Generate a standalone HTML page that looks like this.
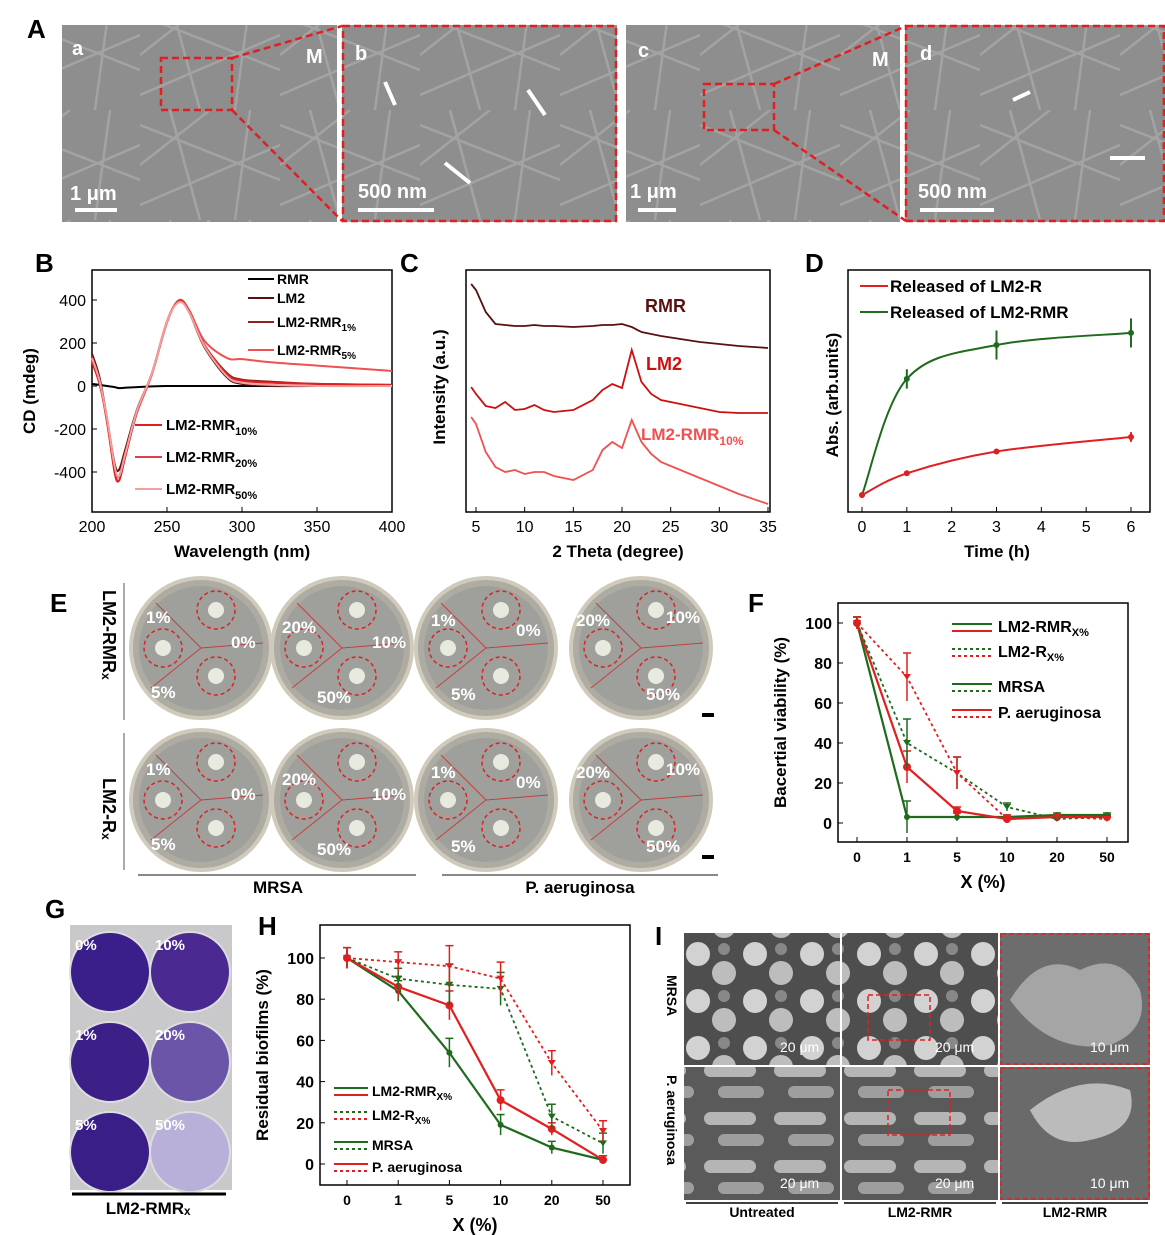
<!DOCTYPE html>
<html><head><meta charset="utf-8"><style>
body{margin:0;background:#fff;}
svg{display:block;font-family:"Liberation Sans",Arial,sans-serif;}
</style></head><body>
<svg id="fig" width="1165" height="1235" viewBox="0 0 1165 1235" xmlns="http://www.w3.org/2000/svg">
<defs>
<pattern id="sem" width="140" height="110" patternUnits="userSpaceOnUse">
<rect width="140" height="110" fill="#8e8e8e"/>
<path d="M0 15 L140 70 M30 0 L60 110 M0 95 L140 35 M110 0 L95 110 M0 55 L70 0" stroke="#a3a3a3" stroke-width="2.5" fill="none"/>
</pattern>
<pattern id="bact" width="57" height="47" patternUnits="userSpaceOnUse">
<rect width="57" height="47" fill="#4e4e4e"/>
<circle cx="14" cy="14" r="12" fill="#d2d2d2"/><circle cx="40" cy="33" r="12" fill="#bdbdbd"/><circle cx="40" cy="9" r="6" fill="#888"/>
</pattern>
<pattern id="rod" width="70" height="48" patternUnits="userSpaceOnUse">
<rect width="70" height="48" fill="#5a5a5a"/>
<rect x="4" y="8" width="52" height="13" rx="6.5" fill="#b5b5b5"/><rect x="18" y="30" width="46" height="12" rx="6" fill="#9e9e9e"/>
</pattern>
</defs>
<g>
<text x="27" y="38" font-size="26" font-weight="bold">A</text>
<rect x="62" y="25" width="275" height="197" fill="url(#sem)"/>
<rect x="342" y="25" width="275" height="197" fill="url(#sem)"/>
<rect x="626" y="25" width="274" height="197" fill="url(#sem)"/>
<rect x="905" y="25" width="260" height="197" fill="url(#sem)"/>
<g stroke="#e02020" stroke-width="2.5" stroke-dasharray="7,4" fill="none">
<rect x="161" y="58" width="71" height="52"/><rect x="343" y="26" width="273" height="195"/>
<rect x="704" y="84" width="70" height="46"/><rect x="906" y="26" width="258" height="195"/>
<path d="M232 58 L342 26 M232 110 L342 221 M774 84 L906 26 M774 130 L906 221"/>
</g>
<g fill="#fff" font-weight="bold" font-size="20">
<text x="72" y="55">a</text><text x="306" y="63">M</text><text x="355" y="60">b</text>
<text x="638" y="57">c</text><text x="872" y="66">M</text><text x="920" y="60">d</text>
<text x="70" y="200">1 μm</text><text x="358" y="198">500 nm</text><text x="630" y="198">1 μm</text><text x="918" y="198">500 nm</text>
</g>
<g stroke="#fff" stroke-width="4"><path d="M75 210h42M358 210h76M638 210h38M920 210h74"/>
<path d="M395 105 L385 82 M545 115 L528 90 M470 183 L445 163 M1030 92 L1013 100 M1145 158 L1110 158"/></g>
</g>

<g id="pB"></g>
<g id="pC"></g>
<g id="pD"></g>

<g>
<text x="50" y="612" font-size="26" font-weight="bold">E</text>
<line x1="124" y1="583" x2="124" y2="720" stroke="#555"/><line x1="124" y1="733" x2="124" y2="870" stroke="#555"/>
<text transform="translate(103,590) rotate(90)" font-size="18" font-weight="bold">LM2-RMRₓ</text>
<text transform="translate(103,778) rotate(90)" font-size="18" font-weight="bold">LM2-Rₓ</text>
<g id="plates"></g>
<line x1="138" y1="875" x2="416" y2="875" stroke="#888" stroke-width="2"/><line x1="442" y1="875" x2="718" y2="875" stroke="#888" stroke-width="2"/>
<text x="278" y="893" font-size="17" font-weight="bold" text-anchor="middle">MRSA</text>
<text x="580" y="893" font-size="17" font-weight="bold" text-anchor="middle">P. aeruginosa</text>
<rect x="702" y="713" width="12" height="4" fill="#000"/><rect x="702" y="855" width="12" height="4" fill="#000"/>
</g>

<g id="pF"></g>

<g>
<text x="45" y="918" font-size="26" font-weight="bold">G</text>
<rect x="70" y="925" width="162" height="265" fill="#c9c9cc"/>
<g id="wells"></g>
<line x1="72" y1="1194" x2="226" y2="1194" stroke="#000" stroke-width="3"/>
<text x="148" y="1214" font-size="17" font-weight="bold" text-anchor="middle">LM2-RMRₓ</text>
</g>

<g id="pH"></g>

<g>
<text x="655" y="945" font-size="26" font-weight="bold">I</text>
<rect x="684" y="933" width="156" height="132" fill="url(#bact)"/><rect x="842" y="933" width="156" height="132" fill="url(#bact)"/><rect x="1000" y="933" width="150" height="132" fill="#6d6d6d"/>
<path d="M1010 1000 q30 -50 70 -30 q40 -20 60 20 q10 40 -30 55 q-60 10 -100 -45z" fill="#a5a5a5"/>
<rect x="684" y="1067" width="156" height="133" fill="url(#rod)"/><rect x="842" y="1067" width="156" height="133" fill="url(#rod)"/><rect x="1000" y="1067" width="150" height="133" fill="#6a6a6a"/>
<path d="M1030 1110 q50 -40 100 -20 q10 40 -40 50 q-40 10 -60 -30z" fill="#bbb"/>
<g stroke="#e02020" stroke-dasharray="5,3" fill="none" stroke-width="1.5"><rect x="868" y="995" width="62" height="45"/><rect x="1001" y="934" width="148" height="130"/><rect x="888" y="1090" width="62" height="45"/><rect x="1001" y="1068" width="148" height="131"/></g>
<g fill="#fff" font-size="14"><text x="780" y="1052">20 μm</text><text x="935" y="1052">20 μm</text><text x="1090" y="1052">10 μm</text><text x="780" y="1188">20 μm</text><text x="935" y="1188">20 μm</text><text x="1090" y="1188">10 μm</text></g>
<text transform="translate(667,975) rotate(90)" font-size="14" font-weight="bold">MRSA</text>
<text transform="translate(667,1075) rotate(90)" font-size="14" font-weight="bold">P. aeruginosa</text>
<g stroke="#000" stroke-width="1.5"><path d="M686 1203h152M844 1203h152M1002 1203h146"/></g>
<g font-size="14" font-weight="bold" text-anchor="middle"><text x="762" y="1217">Untreated</text><text x="920" y="1217">LM2-RMR</text><text x="1075" y="1217">LM2-RMR</text></g>
</g>
</svg>
<script>
// ---------- data ----------
const cdWl=[200,205,210,215,218,222,230,240,250,258,265,275,290,300,320,350,400];
const cdRMR=[10,5,0,-5,-10,-8,-5,-2,0,0,0,0,0,0,0,0,0];
const cdLM2=[150,40,-150,-360,-390,-300,-110,60,300,395,340,180,40,10,0,0,0];
const cdR1=[140,30,-160,-380,-420,-320,-120,60,300,398,345,190,60,30,20,10,5];
const cdR5=[120,20,-170,-390,-440,-330,-125,55,295,400,350,210,130,125,110,95,70];
const cdR10=[110,10,-160,-400,-440,-335,-120,58,298,395,345,190,55,25,15,10,5];
const cdR50=[130,25,-150,-370,-420,-320,-115,60,300,390,340,185,45,15,5,0,0];
const xrdTh=[4.5,5,6,7,8,9,10,11,12,13,15,17,18,19,20,21,22,23,24,26,28,30,32,35];
const xrdRMR=[228,222,200,188,187,186,186,187,186,186,185,186,187,187,188,185,180,178,176,173,170,168,166,164];
const xrdLM2=[125,118,106,104,110,102,103,107,102,100,102,112,122,128,124,162,130,118,112,108,104,100,99,99];
const xrdMix=[95,88,60,45,40,42,38,40,40,36,32,42,62,70,64,92,70,58,50,42,34,26,18,8];
const relT=[0,1,3,6];
const relRMR=[0.07,0.55,0.69,0.74];
const relR=[0.07,0.16,0.25,0.31];
const relRMRerr=[0.01,0.04,0.06,0.06];
const relRerr=[0.01,0.01,0.01,0.02];
const xCats=["0","1","5","10","20","50"];
const fRMRmrsa=[100,3,3,3,4,4];
const fRMRpa=[100,28,6,2,3,3];
const fRmrsa=[100,40,25,8,2,3];
const fRpa=[100,73,25,2,3,2];
const fErrA=[3,8,2,1,1,1];
const fErrB=[3,12,8,2,1,1];
const hRMRmrsa=[100,84,54,19,8,2];
const hRMRpa=[100,86,77,31,17,2];
const hRmrsa=[100,90,87,85,23,10];
const hRpa=[100,98,96,90,49,16];
const hErr=[5,5,7,5,3,2];
const hErr2=[5,5,10,8,6,5];

const NS="http://www.w3.org/2000/svg";
function el(p,tag,at,txt){const e=document.createElementNS(NS,tag);for(const k in at)e.setAttribute(k,at[k]);if(txt!==undefined)e.textContent=txt;p.appendChild(e);return e;}
function lin(d0,d1,r0,r1){return v=>r0+(v-d0)*(r1-r0)/(d1-d0);}
function smooth(pts){let d="M"+pts[0][0]+" "+pts[0][1];for(let i=0;i<pts.length-1;i++){const p0=pts[Math.max(i-1,0)],p1=pts[i],p2=pts[i+1],p3=pts[Math.min(i+2,pts.length-1)];d+=" C"+(p1[0]+(p2[0]-p0[0])/6)+" "+(p1[1]+(p2[1]-p0[1])/6)+" "+(p2[0]-(p3[0]-p1[0])/6)+" "+(p2[1]-(p3[1]-p1[1])/6)+" "+p2[0]+" "+p2[1];}return d;}

// ---------- B ----------
(function(){const g=document.getElementById('pB');
const x=lin(200,400,92,392),y=lin(0,400,386,300);
el(g,'text',{x:35,y:272,'font-size':26,'font-weight':'bold'},'B');
el(g,'rect',{x:92,y:270,width:300,height:242,fill:'none',stroke:'#000','stroke-width':1.5});
[200,250,300,350,400].forEach(v=>{el(g,'line',{x1:x(v),x2:x(v),y1:512,y2:507,stroke:'#000'});const t=el(g,'text',{x:x(v),y:532,'font-size':16,'text-anchor':'middle'},v);});
[400,200,0,-200,-400].forEach(v=>{el(g,'line',{x1:92,x2:97,y1:y(v),y2:y(v),stroke:'#000'});el(g,'text',{x:86,y:y(v)+6,'font-size':16,'text-anchor':'end'},v);});
el(g,'text',{x:242,y:557,'font-size':17,'font-weight':'bold','text-anchor':'middle'},'Wavelength (nm)');
el(g,'text',{transform:'translate(35,391) rotate(-90)','font-size':17,'font-weight':'bold','text-anchor':'middle'},'CD (mdeg)');
const ser=[[cdRMR,'#000'],[cdLM2,'#5a1010'],[cdR1,'#8b2222'],[cdR5,'#f05050'],[cdR10,'#e02020'],[cdR50,'#f5a0a0']];
ser.forEach(s=>{const p=el(g,'path',{d:smooth(cdWl.map((w,i)=>[x(w),y(s[0][i])])),fill:'none',stroke:s[1],'stroke-width':2});});
const leg=[['RMR','#000',284],['LM2','#5a1010',303],['LM2-RMR','#8b2222',327,'1%'],['LM2-RMR','#f05050',355,'5%']];
leg.forEach(l=>{el(g,'line',{x1:248,x2:274,y1:l[2]-5,y2:l[2]-5,stroke:l[1],'stroke-width':2});const t=el(g,'text',{x:277,y:l[2],'font-size':14,'font-weight':'bold'},l[0]);if(l[3])el(t,'tspan',{'font-size':10,dy:4},l[3]);});
[['#e02020',430,'10%'],['#e04050',462,'20%'],['#f5a0a0',494,'50%']].forEach(l=>{el(g,'line',{x1:135,x2:162,y1:l[1]-5,y2:l[1]-5,stroke:l[0],'stroke-width':2});const t=el(g,'text',{x:166,y:l[1],'font-size':15,'font-weight':'bold'},'LM2-RMR');el(t,'tspan',{'font-size':11,dy:5},l[2]);});
})();

// ---------- C ----------
(function(){const g=document.getElementById('pC');
const x=lin(5,35,476,768);
el(g,'text',{x:400,y:272,'font-size':26,'font-weight':'bold'},'C');
el(g,'rect',{x:466,y:270,width:304,height:242,fill:'none',stroke:'#000','stroke-width':1.5});
[5,10,15,20,25,30,35].forEach(v=>{el(g,'line',{x1:x(v),x2:x(v),y1:512,y2:507,stroke:'#000'});el(g,'text',{x:x(v),y:532,'font-size':16,'text-anchor':'middle'},v);});
el(g,'text',{x:618,y:557,'font-size':17,'font-weight':'bold','text-anchor':'middle'},'2 Theta (degree)');
el(g,'text',{transform:'translate(445,387) rotate(-90)','font-size':17,'font-weight':'bold','text-anchor':'middle'},'Intensity (a.u.)');
[[xrdRMR,'#5a1010'],[xrdLM2,'#cc1010'],[xrdMix,'#f05050']].forEach(s=>{const p=el(g,'path',{d:'M'+xrdTh.map((t,i)=>x(t)+' '+(512-s[0][i])).join(' L'),fill:'none',stroke:s[1],'stroke-width':1.8});});
el(g,'text',{x:645,y:312,'font-size':18,'font-weight':'bold',fill:'#5a1010'},'RMR');
el(g,'text',{x:646,y:370,'font-size':18,'font-weight':'bold',fill:'#cc1010'},'LM2');
const t=el(g,'text',{x:641,y:440,'font-size':17,'font-weight':'bold',fill:'#f05050'},'LM2-RMR');el(t,'tspan',{'font-size':12,dy:5},'10%');
})();

// ---------- D ----------
(function(){const g=document.getElementById('pD');
const x=lin(0,6,862,1131),y=lin(0,1,512,270);
el(g,'text',{x:805,y:272,'font-size':26,'font-weight':'bold'},'D');
el(g,'rect',{x:848,y:270,width:302,height:242,fill:'none',stroke:'#000','stroke-width':1.5});
[0,1,2,3,4,5,6].forEach(v=>{el(g,'line',{x1:x(v),x2:x(v),y1:512,y2:507,stroke:'#000'});el(g,'text',{x:x(v),y:532,'font-size':16,'text-anchor':'middle'},v);});
el(g,'text',{x:997,y:557,'font-size':17,'font-weight':'bold','text-anchor':'middle'},'Time (h)');
el(g,'text',{transform:'translate(838,395) rotate(-90)','font-size':17,'font-weight':'bold','text-anchor':'middle'},'Abs. (arb.units)');
[[relRMR,relRMRerr,'#1e6b1e'],[relR,relRerr,'#e02020']].forEach(s=>{
const pts=relT.map((t,i)=>[x(t),y(s[0][i])]);
const p=el(g,'path',{d:smooth(pts),fill:'none',stroke:s[2],'stroke-width':2});
relT.forEach((t,i)=>{el(g,'line',{x1:x(t),x2:x(t),y1:y(s[0][i]+s[1][i]),y2:y(s[0][i]-s[1][i]),stroke:s[2],'stroke-width':2});el(g,'circle',{cx:x(t),cy:y(s[0][i]),r:3,fill:s[2]});});});
el(g,'line',{x1:860,x2:888,y1:286,y2:286,stroke:'#e02020','stroke-width':2});el(g,'text',{x:890,y:292,'font-size':17,'font-weight':'bold'},'Released of LM2-R');
el(g,'line',{x1:860,x2:888,y1:312,y2:312,stroke:'#1e6b1e','stroke-width':2});el(g,'text',{x:890,y:318,'font-size':17,'font-weight':'bold'},'Released of LM2-RMR');
})();

// ---------- E plates ----------
(function(){const g=document.getElementById('plates');
const cx=[201,342,486,641],cy=[648,800];
const labs=[[['1%',-55,-25],['0%',30,0],['5%',-50,50]],[['20%',-60,-15],['10%',30,0],['50%',-25,55]],[['1%',-55,-22],['0%',30,-12],['5%',-35,52]],[['20%',-65,-22],['10%',25,-25],['50%',5,52]]];
for(let r=0;r<2;r++)for(let c=0;c<4;c++){
const X=cx[c],Y=cy[r];
const pl=el(g,'ellipse',{cx:X,cy:Y,rx:70,ry:70,fill:'#aeaca2',stroke:'#cfcabb','stroke-width':4});
el(g,'ellipse',{cx:X,cy:Y,rx:62,ry:62,fill:'#9fa09c'});
el(g,'path',{d:`M${X} ${Y} L${X-45} ${Y-45} M${X} ${Y} L${X+62} ${Y-5} M${X} ${Y} L${X-50} ${Y+40}`,stroke:'#c04040','stroke-width':1});
[[-38,0],[15,-38],[15,28]].forEach(d=>{el(g,'circle',{cx:X+d[0],cy:Y+d[1],r:19,fill:'none',stroke:'#e02020','stroke-width':1.5,'stroke-dasharray':'4,3'});el(g,'circle',{cx:X+d[0],cy:Y+d[1],r:8,fill:'#e8eadf'});});
labs[c].forEach(l=>el(g,'text',{x:X+l[1],y:Y+l[2],'font-size':17,'font-weight':'bold',fill:'#fff'},l[0]));
}})();

// ---------- G wells ----------
(function(){const g=document.getElementById('wells');
const labs=[['0%','10%'],['1%','20%'],['5%','50%']],fills=[['#3a1e8a','#4a2a90'],['#3c2088','#6a55a8'],['#3a1e88','#b8b0d8']];
for(let r=0;r<3;r++)for(let c=0;c<2;c++){const X=110+c*80,Y=972+r*90;
el(g,'circle',{cx:X,cy:Y,r:40,fill:fills[r][c],stroke:'#ddd','stroke-width':2});
el(g,'text',{x:X-35,y:Y-22,'font-size':15,'font-weight':'bold',fill:'#fff'},labs[r][c]);}
})();

// ---------- line chart helper for F & H ----------
function catChart(gid,L,T,W,H,xs,ymax,step,ylabel,lbl,lblx,lbly,series){
const g=document.getElementById(gid);
const x=i=>xs[0]+i*(xs[1]-xs[0]), y=lin(0,100,ymax[0],ymax[1]);
el(g,'text',{x:lblx,y:lbly,'font-size':26,'font-weight':'bold'},lbl);
el(g,'rect',{x:L,y:T,width:W,height:H,fill:'none',stroke:'#000','stroke-width':1.5});
xCats.forEach((c,i)=>{el(g,'line',{x1:x(i),x2:x(i),y1:T+H,y2:T+H-5,stroke:'#000'});el(g,'text',{x:x(i),y:T+H+20,'font-size':14,'font-weight':'bold','text-anchor':'middle'},c);});
for(let v=0;v<=100;v+=step){el(g,'line',{x1:L,x2:L+5,y1:y(v),y2:y(v),stroke:'#000'});el(g,'text',{x:L-6,y:y(v)+6,'font-size':16,'font-weight':'bold','text-anchor':'end'},v);}
el(g,'text',{x:L+W/2,y:T+H+46,'font-size':18,'font-weight':'bold','text-anchor':'middle'},'X (%)');
el(g,'text',{transform:`translate(${L-52},${T+H/2}) rotate(-90)`,'font-size':17,'font-weight':'bold','text-anchor':'middle'},ylabel);
series.forEach(s=>{const pts=s.v.map((v,i)=>[x(i),y(v)]);
const p=el(g,'path',{d:'M'+pts.map(q=>q.join(' ')).join(' L'),fill:'none',stroke:s.c,'stroke-width':s.d?1.8:2.2,'stroke-dasharray':s.d?'3,3':'none'});
pts.forEach((q,i)=>{el(g,'line',{x1:q[0],x2:q[0],y1:y(s.v[i]+s.e[i]),y2:y(s.v[i]-s.e[i]),stroke:s.c,'stroke-width':1.5});el(g,'line',{x1:q[0]-4,x2:q[0]+4,y1:y(s.v[i]+s.e[i]),y2:y(s.v[i]+s.e[i]),stroke:s.c,'stroke-width':1.5});
if(s.d)el(g,'path',{d:`M${q[0]-4} ${q[1]-3}h8l-4 6z`,fill:s.c});else el(g,'circle',{cx:q[0],cy:q[1],r:s.c=='#e02020'?4:3,fill:s.c});});});
return g;}

function legend(g,x1,x2,tx,entries,fs,sub){
entries.forEach(e=>{
el(g,'line',{x1:x1,x2:x2,y1:e.y-6,y2:e.y-6,stroke:e.c1,'stroke-width':2,'stroke-dasharray':e.d1?'3,3':'none'});
el(g,'line',{x1:x1,x2:x2,y1:e.y+1,y2:e.y+1,stroke:e.c2,'stroke-width':2,'stroke-dasharray':e.d2?'3,3':'none'});
const t=el(g,'text',{x:tx,y:e.y+2,'font-size':fs,'font-weight':'bold'},e.t);if(e.s)el(t,'tspan',{'font-size':sub,dy:4},e.s);});}

(function(){const g=catChart('pF',838,603,290,239,[857,907],[823,623],20,'Bacertial viability (%)','F',748,612,
[{v:fRMRmrsa,e:fErrA,c:'#1e6b1e'},{v:fRMRpa,e:fErrA,c:'#e02020'},{v:fRmrsa,e:fErrB,c:'#1e6b1e',d:1},{v:fRpa,e:fErrB,c:'#e02020',d:1}]);
legend(g,952,992,998,[{y:630,t:'LM2-RMR',s:'X%',c1:'#1e6b1e',c2:'#e02020'},{y:655,t:'LM2-R',s:'X%',c1:'#1e6b1e',c2:'#e02020',d1:1,d2:1},{y:690,t:'MRSA',c1:'#1e6b1e',c2:'#1e6b1e',d2:1},{y:716,t:'P. aeruginosa',c1:'#e02020',c2:'#e02020',d2:1}],16,11);
})();

(function(){const g=catChart('pH',320,925,310,260,[347,398.2],[1164,958],20,'Residual biofilms (%)','H',258,935,
[{v:hRMRmrsa,e:hErr,c:'#1e6b1e'},{v:hRMRpa,e:hErr,c:'#e02020'},{v:hRmrsa,e:hErr2,c:'#1e6b1e',d:1},{v:hRpa,e:hErr2,c:'#e02020',d:1}]);
legend(g,334,368,372,[{y:1094,t:'LM2-RMR',s:'X%',c1:'#1e6b1e',c2:'#e02020'},{y:1118,t:'LM2-R',s:'X%',c1:'#1e6b1e',c2:'#e02020',d1:1,d2:1},{y:1148,t:'MRSA',c1:'#1e6b1e',c2:'#1e6b1e',d2:1},{y:1170,t:'P. aeruginosa',c1:'#e02020',c2:'#e02020',d2:1}],14,10);
})();
</script>
</body></html>
